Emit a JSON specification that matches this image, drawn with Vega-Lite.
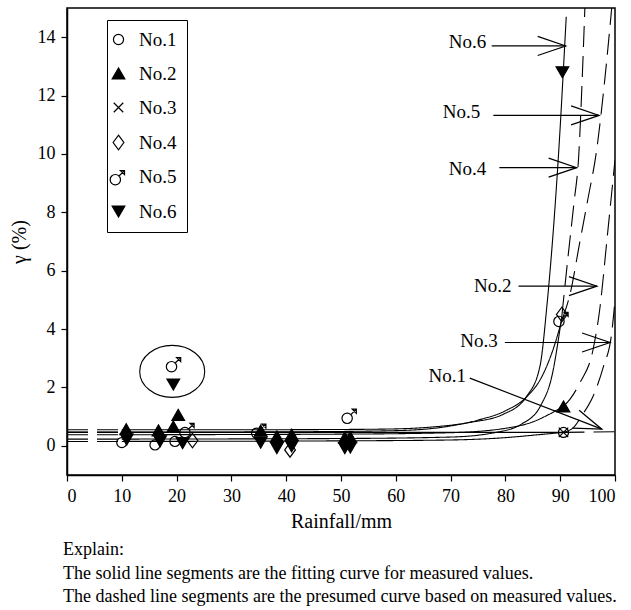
{
  "$schema": "https://vega.github.io/schema/vega-lite/v6.json",
  "width": 548,
  "height": 467,
  "autosize": {"type": "none"},
  "padding": {"left": 67, "top": 8, "right": 16, "bottom": 135},
  "background": "white",
  "config": {
    "view": {"stroke": "black", "strokeWidth": 1.5},
    "axis": {
      "domainColor": "black", "domainWidth": 1.5, "tickColor": "black", "tickWidth": 1.2, "tickSize": 6,
      "labelFont": "Liberation Serif", "labelFontSize": 18, "labelColor": "black", "labelPadding": 6,
      "titleFont": "Liberation Serif", "titleFontSize": 20, "titleFontWeight": "normal", "titleColor": "black",
      "grid": false
    },
    "legend": {
      "orient": "none", "legendX": 40, "legendY": 12,
      "strokeColor": "black", "fillColor": "white", "padding": 10,
      "labelFontSize": 19, "labelColor": "black", "labelOffset": 11, "symbolOffset": -8,
      "symbolSize": 160, "symbolStrokeColor": "black", "symbolStrokeWidth": 1.2, "symbolOpacity": 1,
      "rowPadding": 14, "titleFontSize": 0
    }
  },
  "title": {
    "text": ["Explain:", "The solid line segments are the fitting curve for measured values.", "The dashed line segments are the presumed curve based on measured values."],
    "orient": "bottom", "anchor": "start", "frame": "group",
    "font": "Liberation Serif", "fontSize": 18, "fontWeight": "normal", "color": "black",
    "lineHeight": 23.5, "offset": 10, "dx": -4
  },
  "datasets": {
    "curves": [
      {"sample": "No.6", "seg": "6a", "kind": "presumed", "x": 0, "y": 0.55},
      {"sample": "No.6", "seg": "6a", "kind": "presumed", "x": 10, "y": 0.55},
      {"sample": "No.6", "seg": "6b", "kind": "fitted", "x": 10, "y": 0.55},
      {"sample": "No.6", "seg": "6b", "kind": "fitted", "x": 30, "y": 0.55},
      {"sample": "No.6", "seg": "6b", "kind": "fitted", "x": 50, "y": 0.56},
      {"sample": "No.6", "seg": "6b", "kind": "fitted", "x": 60, "y": 0.58},
      {"sample": "No.6", "seg": "6b", "kind": "fitted", "x": 67, "y": 0.65},
      {"sample": "No.6", "seg": "6b", "kind": "fitted", "x": 73.5, "y": 0.8},
      {"sample": "No.6", "seg": "6b", "kind": "fitted", "x": 79.6, "y": 1.08},
      {"sample": "No.6", "seg": "6b", "kind": "fitted", "x": 83.9, "y": 1.7},
      {"sample": "No.6", "seg": "6b", "kind": "fitted", "x": 86.3, "y": 2.72},
      {"sample": "No.6", "seg": "6b", "kind": "fitted", "x": 87.6, "y": 4.85},
      {"sample": "No.6", "seg": "6b", "kind": "fitted", "x": 89.7, "y": 10},
      {"sample": "No.6", "seg": "6b", "kind": "fitted", "x": 91.1, "y": 14.7},

      {"sample": "No.5", "seg": "5a", "kind": "presumed", "x": 0, "y": 0.47},
      {"sample": "No.5", "seg": "5a", "kind": "presumed", "x": 10, "y": 0.47},
      {"sample": "No.5", "seg": "5b", "kind": "fitted", "x": 10, "y": 0.47},
      {"sample": "No.5", "seg": "5b", "kind": "fitted", "x": 40, "y": 0.48},
      {"sample": "No.5", "seg": "5b", "kind": "fitted", "x": 60, "y": 0.52},
      {"sample": "No.5", "seg": "5b", "kind": "fitted", "x": 70, "y": 0.68},
      {"sample": "No.5", "seg": "5b", "kind": "fitted", "x": 75, "y": 0.88},
      {"sample": "No.5", "seg": "5b", "kind": "fitted", "x": 80, "y": 1.2},
      {"sample": "No.5", "seg": "5b", "kind": "fitted", "x": 84, "y": 1.7},
      {"sample": "No.5", "seg": "5b", "kind": "fitted", "x": 86.6, "y": 2.35},
      {"sample": "No.5", "seg": "5b", "kind": "fitted", "x": 88.7, "y": 3.3},
      {"sample": "No.5", "seg": "5b", "kind": "fitted", "x": 90.3, "y": 4.3},
      {"sample": "No.5", "seg": "5c", "kind": "presumed", "x": 90.3, "y": 4.3},
      {"sample": "No.5", "seg": "5c", "kind": "presumed", "x": 91.8, "y": 5.2},
      {"sample": "No.5", "seg": "5c", "kind": "presumed", "x": 93.5, "y": 6.9},
      {"sample": "No.5", "seg": "5c", "kind": "presumed", "x": 95, "y": 8.4},
      {"sample": "No.5", "seg": "5c", "kind": "presumed", "x": 96.7, "y": 10.2},
      {"sample": "No.5", "seg": "5c", "kind": "presumed", "x": 98, "y": 12.3},
      {"sample": "No.5", "seg": "5c", "kind": "presumed", "x": 99.4, "y": 15},

      {"sample": "No.4", "seg": "4a", "kind": "presumed", "x": 0, "y": 0.23},
      {"sample": "No.4", "seg": "4a", "kind": "presumed", "x": 10, "y": 0.23},
      {"sample": "No.4", "seg": "4b", "kind": "fitted", "x": 10, "y": 0.23},
      {"sample": "No.4", "seg": "4b", "kind": "fitted", "x": 50, "y": 0.25},
      {"sample": "No.4", "seg": "4b", "kind": "fitted", "x": 70, "y": 0.3},
      {"sample": "No.4", "seg": "4b", "kind": "fitted", "x": 78, "y": 0.45},
      {"sample": "No.4", "seg": "4b", "kind": "fitted", "x": 83, "y": 0.75},
      {"sample": "No.4", "seg": "4b", "kind": "fitted", "x": 86.5, "y": 1.4},
      {"sample": "No.4", "seg": "4b", "kind": "fitted", "x": 88.5, "y": 2.4},
      {"sample": "No.4", "seg": "4b", "kind": "fitted", "x": 90.3, "y": 4.45},
      {"sample": "No.4", "seg": "4c", "kind": "presumed", "x": 90.3, "y": 4.45},
      {"sample": "No.4", "seg": "4c", "kind": "presumed", "x": 91.5, "y": 6.6},
      {"sample": "No.4", "seg": "4c", "kind": "presumed", "x": 92.5, "y": 8.3},
      {"sample": "No.4", "seg": "4c", "kind": "presumed", "x": 93.4, "y": 10},
      {"sample": "No.4", "seg": "4c", "kind": "presumed", "x": 94, "y": 12.5},
      {"sample": "No.4", "seg": "4c", "kind": "presumed", "x": 94.5, "y": 15},

      {"sample": "No.2", "seg": "2a", "kind": "presumed", "x": 0, "y": 0.38},
      {"sample": "No.2", "seg": "2a", "kind": "presumed", "x": 10, "y": 0.38},
      {"sample": "No.2", "seg": "2b", "kind": "fitted", "x": 10, "y": 0.38},
      {"sample": "No.2", "seg": "2b", "kind": "fitted", "x": 50, "y": 0.4},
      {"sample": "No.2", "seg": "2b", "kind": "fitted", "x": 70, "y": 0.45},
      {"sample": "No.2", "seg": "2b", "kind": "fitted", "x": 80, "y": 0.6},
      {"sample": "No.2", "seg": "2b", "kind": "fitted", "x": 85, "y": 0.82},
      {"sample": "No.2", "seg": "2b", "kind": "fitted", "x": 88, "y": 1.08},
      {"sample": "No.2", "seg": "2b", "kind": "fitted", "x": 90.6, "y": 1.35},
      {"sample": "No.2", "seg": "2c", "kind": "presumed", "x": 90.6, "y": 1.35},
      {"sample": "No.2", "seg": "2c", "kind": "presumed", "x": 91.8, "y": 1.6},
      {"sample": "No.2", "seg": "2c", "kind": "presumed", "x": 93.6, "y": 2.16},
      {"sample": "No.2", "seg": "2c", "kind": "presumed", "x": 96, "y": 3.3},
      {"sample": "No.2", "seg": "2c", "kind": "presumed", "x": 97.3, "y": 4.8},
      {"sample": "No.2", "seg": "2c", "kind": "presumed", "x": 98.5, "y": 7},
      {"sample": "No.2", "seg": "2c", "kind": "presumed", "x": 100, "y": 9.8},

      {"sample": "No.3", "seg": "3a", "kind": "presumed", "x": 0, "y": 0.15},
      {"sample": "No.3", "seg": "3a", "kind": "presumed", "x": 10, "y": 0.15},
      {"sample": "No.3", "seg": "3b", "kind": "fitted", "x": 10, "y": 0.15},
      {"sample": "No.3", "seg": "3b", "kind": "fitted", "x": 50, "y": 0.17},
      {"sample": "No.3", "seg": "3b", "kind": "fitted", "x": 70, "y": 0.2},
      {"sample": "No.3", "seg": "3b", "kind": "fitted", "x": 80, "y": 0.28},
      {"sample": "No.3", "seg": "3b", "kind": "fitted", "x": 86, "y": 0.38},
      {"sample": "No.3", "seg": "3b", "kind": "fitted", "x": 90.6, "y": 0.46},
      {"sample": "No.3", "seg": "3c", "kind": "presumed", "x": 90.6, "y": 0.46},
      {"sample": "No.3", "seg": "3c", "kind": "presumed", "x": 92.4, "y": 0.62},
      {"sample": "No.3", "seg": "3c", "kind": "presumed", "x": 94, "y": 1.05},
      {"sample": "No.3", "seg": "3c", "kind": "presumed", "x": 96, "y": 1.7},
      {"sample": "No.3", "seg": "3c", "kind": "presumed", "x": 97.9, "y": 2.72},
      {"sample": "No.3", "seg": "3c", "kind": "presumed", "x": 99.4, "y": 3.87},
      {"sample": "No.3", "seg": "3c", "kind": "presumed", "x": 100, "y": 5.0},

      {"sample": "No.1", "seg": "1a", "kind": "presumed", "x": 0, "y": 0.46},
      {"sample": "No.1", "seg": "1a", "kind": "presumed", "x": 10, "y": 0.46},
      {"sample": "No.1", "seg": "1b", "kind": "fitted", "x": 10, "y": 0.46},
      {"sample": "No.1", "seg": "1b", "kind": "fitted", "x": 90.6, "y": 0.46},
      {"sample": "No.1", "seg": "1c", "kind": "presumed", "x": 90.6, "y": 0.46},
      {"sample": "No.1", "seg": "1c", "kind": "presumed", "x": 100, "y": 0.48}
    ],
    "points": [
      {"sample": "No.1", "x": 10.0, "y": 0.11},
      {"sample": "No.1", "x": 16.06, "y": 0.03},
      {"sample": "No.1", "x": 19.7, "y": 0.15},
      {"sample": "No.1", "x": 90.6, "y": 0.46},
      {"sample": "No.2", "x": 10.8, "y": 0.57},
      {"sample": "No.2", "x": 16.7, "y": 0.53},
      {"sample": "No.2", "x": 19.4, "y": 0.66},
      {"sample": "No.2", "x": 20.3, "y": 1.06},
      {"sample": "No.2", "x": 35.35, "y": 0.52},
      {"sample": "No.2", "x": 38.3, "y": 0.32},
      {"sample": "No.2", "x": 41.0, "y": 0.38},
      {"sample": "No.2", "x": 50.7, "y": 0.28},
      {"sample": "No.2", "x": 51.7, "y": 0.3},
      {"sample": "No.2", "x": 90.6, "y": 1.35},
      {"sample": "No.3", "x": 90.6, "y": 0.46},
      {"sample": "No.4", "x": 22.9, "y": 0.18},
      {"sample": "No.4", "x": 40.7, "y": -0.14},
      {"sample": "No.4", "x": 90.3, "y": 4.5},
      {"sample": "No.5", "x": 22.1, "y": 0.56},
      {"sample": "No.5", "x": 35.2, "y": 0.54},
      {"sample": "No.5", "x": 51.7, "y": 1.05},
      {"sample": "No.5", "x": 90.35, "y": 4.37},
      {"sample": "No.5", "x": 19.65, "y": 2.82},
      {"sample": "No.6", "x": 10.9, "y": 0.21},
      {"sample": "No.6", "x": 17.0, "y": 0.15},
      {"sample": "No.6", "x": 21.1, "y": 0.09},
      {"sample": "No.6", "x": 35.35, "y": 0.11},
      {"sample": "No.6", "x": 38.3, "y": -0.08},
      {"sample": "No.6", "x": 41.0, "y": -0.02},
      {"sample": "No.6", "x": 50.7, "y": -0.08},
      {"sample": "No.6", "x": 51.7, "y": -0.06},
      {"sample": "No.6", "x": 90.4, "y": 12.8},
      {"sample": "No.6", "x": 19.4, "y": 2.1}
    ],
    "labels": [
      {"label": "No.6", "x": 76.5, "y": 13.83},
      {"label": "No.5", "x": 75.4, "y": 11.42},
      {"label": "No.4", "x": 76.5, "y": 9.47},
      {"label": "No.2", "x": 81.1, "y": 5.47},
      {"label": "No.3", "x": 78.6, "y": 3.58},
      {"label": "No.1", "x": 72.8, "y": 2.38}
    ],
    "arrows": [
      {"label": "No.6", "x": 77.5, "y": 13.7, "x2": 91.0, "y2": 13.7},
      {"label": "No.5", "x": 77.8, "y": 11.32, "x2": 97.1, "y2": 11.32},
      {"label": "No.4", "x": 78.9, "y": 9.53, "x2": 93.0, "y2": 9.53},
      {"label": "No.2", "x": 82.4, "y": 5.47, "x2": 96.7, "y2": 5.47},
      {"label": "No.3", "x": 79.9, "y": 3.54, "x2": 99.1, "y2": 3.54},
      {"label": "No.1", "x": 73.5, "y": 2.32, "x2": 97.6, "y2": 0.57}
    ],
    "heads": [
      {"label": "No.6", "x": 91.0, "y": 13.7},
      {"label": "No.5", "x": 97.1, "y": 11.32},
      {"label": "No.4", "x": 93.0, "y": 9.53},
      {"label": "No.2", "x": 96.7, "y": 5.47},
      {"label": "No.3", "x": 99.1, "y": 3.54},
      {"label": "No.1", "x": 97.6, "y": 0.57}
    ],
    "highlight": [
      {"x": 19.2, "y": 2.55}
    ]
  },
  "encoding": {
    "x": {"field": "x", "type": "quantitative", "scale": {"domain": [0, 100], "nice": false, "zero": false},
          "axis": {"title": "Rainfall/mm", "values": [0, 10, 20, 30, 40, 50, 60, 70, 80, 90, 100], "titlePadding": 6,
                   "labelFont": "Liberation Serif", "titleFont": "Liberation Serif"}},
    "y": {"field": "y", "type": "quantitative", "scale": {"domain": [-1, 15], "nice": false, "zero": false},
          "axis": {"title": "γ (%)", "values": [0, 2, 4, 6, 8, 10, 12, 14], "titlePadding": 8,
                   "labelFont": "Liberation Serif", "titleFont": "Liberation Serif"}}
  },
  "layer": [
    {
      "data": {"name": "curves"},
      "mark": {"type": "line", "interpolate": "monotone", "color": "black", "strokeWidth": 1.1, "clip": true},
      "encoding": {
        "detail": {"field": "seg", "type": "nominal"},
        "strokeDash": {"field": "kind", "type": "nominal", "scale": {"domain": ["fitted", "presumed"], "range": [[1, 0], [21, 9]]}, "legend": null}
      }
    },
    {
      "data": {"name": "highlight"},
      "mark": {"type": "point", "shape": "M-1,0A1,0.8,0,1,1,1,0A1,0.8,0,1,1,-1,0Z", "size": 4225, "filled": false, "color": "black", "strokeWidth": 1.1, "opacity": 1},
      "encoding": {}
    },
    {
      "data": {"name": "points"},
      "mark": {"type": "point", "size": 160, "stroke": "black", "strokeWidth": 1.2, "opacity": 1},
      "encoding": {
        "shape": {"field": "sample", "type": "nominal", "title": null,
          "scale": {"domain": ["No.1", "No.2", "No.3", "No.4", "No.5", "No.6"],
            "range": [
              "M-0.8,0A0.8,0.8,0,1,1,0.8,0A0.8,0.8,0,1,1,-0.8,0Z",
              "triangle-up",
              "M-0.75,-0.75L0.75,0.75M-0.75,0.75L0.75,-0.75",
              "M0,-1.15L0.85,0L0,1.15L-0.85,0Z",
              "M-1.32,0.5A0.82,0.82,0,1,1,0.32,0.5A0.82,0.82,0,1,1,-1.32,0.5ZM0.08,-0.08L0.9,-0.9M0.3,-0.95L0.95,-0.95L0.95,-0.3Z",
              "triangle-down"
            ]},
          "legend": {
            "labelFont": "Liberation Serif",
            "encode": {"symbols": {"update": {"stroke": {"value": "black"}, "strokeWidth": {"value": 1.2}, "opacity": {"value": 1}}}}
          }},
        "fill": {"field": "sample", "type": "nominal", "title": null,
          "scale": {"domain": ["No.1", "No.2", "No.3", "No.4", "No.5", "No.6"],
            "range": ["transparent", "black", "transparent", "transparent", "transparent", "black"]},
          "legend": {
            "labelFont": "Liberation Serif",
            "encode": {"symbols": {"update": {"stroke": {"value": "black"}, "strokeWidth": {"value": 1.2}, "opacity": {"value": 1}}}}
          }}
      }
    },
    {
      "data": {"name": "arrows"},
      "mark": {"type": "rule", "color": "black", "strokeWidth": 1.2},
      "encoding": {
        "x2": {"field": "x2"},
        "y2": {"field": "y2"}
      }
    },
    {
      "data": {"name": "heads"},
      "transform": [{"filter": "datum.label !== 'No.1'"}],
      "mark": {"type": "point", "shape": "M-1,-0.34L0,0L-1,0.34", "size": 3136, "filled": false, "color": "black", "strokeWidth": 1.2, "opacity": 1},
      "encoding": {}
    },
    {
      "data": {"name": "heads"},
      "transform": [{"filter": "datum.label === 'No.1'"}],
      "mark": {"type": "point", "shape": "M-1,-0.34L0,0L-1,0.34", "size": 3136, "angle": 21, "filled": false, "color": "black", "strokeWidth": 1.2, "opacity": 1},
      "encoding": {}
    },
    {
      "data": {"name": "labels"},
      "mark": {"type": "text", "align": "right", "baseline": "middle", "font": "Liberation Serif", "fontSize": 19, "color": "black"},
      "encoding": {
        "text": {"field": "label"}
      }
    }
  ]
}
